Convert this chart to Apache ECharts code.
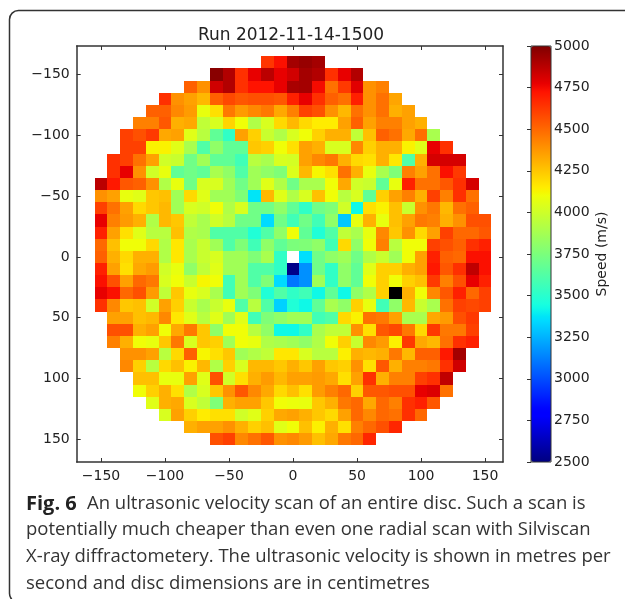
<!DOCTYPE html>
<html><head><meta charset="utf-8">
<style>html,body{margin:0;padding:0;background:#fff;overflow:hidden}#c{width:625px;height:599px}</style>
<script src="https://cdn.jsdelivr.net/npm/echarts@6/dist/echarts.min.js"></script>
</head><body><div id="c"></div>
<script>
const title = 'Run 2012-11-14-1500';
const axisTicks = [-150,-100,-50,0,50,100,150];
const colorbarLabel = 'Speed (m/s)';
const speedMin = 2500, speedMax = 5000;
// y position of each row of the scan; x position of the first cell in each row
const rowY = [-160,-150,-140,-130,-120,-110,-100,-90,-80,-70,-60,-50,-40,-30,-20,-10,0,10,20,30,40,50,60,70,80,90,100,110,120,130,140,150];
const rowStartX = [-20,-60,-80,-100,-110,-120,-130,-130,-140,-140,-150,-150,-150,-150,-150,-150,-150,-150,-150,-150,-150,-140,-140,-140,-130,-130,-120,-120,-110,-100,-80,-60];
const speeds = [
[4635,4733,4920,4950,4920],
[4980,4890,4647,4775,4870,4775,4825,4920,4890,4647,4775,4890],
[4520,4392,4830,4890,4647,4725,4725,4775,4910,4920,4745,4476,4625,4790,4392,4437],
[4647,4392,4350,4287,4520,4585,4545,4565,4565,4545,4690,4775,4647,4520,4476,4690,4392,4476,4340],
[4520,4520,4415,4365,4080,4182,4457,4365,4415,4457,4330,4437,4605,4565,4392,4287,4476,4392,4476,4307,4350],
[4437,4437,4545,4307,4330,3958,4032,4215,4103,3910,4032,4200,4287,4200,4150,4150,4350,4520,4350,4437,4437,4350,4307],
[4605,4565,4625,4330,4350,4055,3933,3668,3522,4350,4225,3983,3910,4032,4103,4225,4307,4307,3958,4268,4520,4476,4330,4480,3888],
[4605,4605,4135,4135,4055,3888,3618,3812,3668,3668,4247,4225,4103,4182,4350,4307,4032,4032,4415,4225,4307,4307,4135,4055,4775,4647],
[4647,4605,4476,4350,4007,3983,3715,3862,3668,3668,3570,3933,3888,4032,4020,4350,4415,4457,4307,4200,4182,4307,4165,3618,4307,4815,4815,4815],
[4647,4775,4392,4007,4080,3668,3715,3668,3888,3812,3618,3862,3812,3762,4045,4287,4125,4182,4476,4307,4080,3888,3762,4437,4350,4476,4733,4625],
[4870,4710,4545,4520,4392,3910,4080,3715,4032,4032,3862,3715,3862,4055,3910,3715,3888,3888,4103,4330,4007,3983,3668,4080,4690,4476,4476,4545,4647,4815],
[4392,4350,4080,4055,4247,4268,3862,4200,4055,3862,3862,3762,3375,4287,4055,3910,4032,4268,4103,3933,4032,3668,4225,4350,4437,4307,4605,4437,4647,4476],
[4605,4476,4350,4200,4247,4287,3862,4032,4007,4103,3910,4032,3715,3715,3812,3668,3522,3715,3762,4007,3423,4182,4135,4268,3983,4392,4457,4287,4476,4520],
[4775,4437,4365,4307,3910,4287,4247,3958,3888,4007,3933,3715,3715,3350,3715,3570,3715,3570,3812,3300,4080,4307,4080,4268,4350,4457,4437,4307,4392,4565,4565],
[4690,4350,4182,4055,3933,3933,4268,3910,3888,3618,3618,3618,3472,3618,3812,4103,3668,3472,3618,3958,3888,4080,4415,4247,4392,4200,4350,4605,4500,4500,4545],
[4500,4268,4103,4103,4200,3910,4165,3888,3983,3862,3618,3762,3570,3812,3668,3750,3762,3812,3570,4200,3812,4103,4437,3933,4103,4103,4605,4565,4520,4647,4690],
[4520,4307,4200,4307,4307,3910,4165,3888,3983,4032,3862,3862,3762,3888,3522,null,3360,3715,3812,3862,3715,3910,3983,3862,4103,4350,4690,4520,4500,4733,4733],
[4690,4350,4182,4330,4365,4007,4080,3812,3958,4055,3862,3862,3618,3618,3522,2520,3165,3715,3522,3812,3668,4055,4225,4225,4307,4350,4710,4545,4647,4860,4733],
[4733,4565,4350,4500,4457,4032,4103,3983,4125,4103,3570,3862,3618,3762,3350,3100,3165,3862,3522,3812,3668,4103,4225,4103,4225,4268,4625,4437,4565,4775,4690],
[4775,4733,4500,4565,4365,3958,4247,4080,4032,3888,3570,3862,3762,3472,3618,3522,3570,3423,3668,3423,3812,3910,4225,2400,4307,4103,4415,4545,4690,4500,4605],
[4647,4415,4247,4268,4007,4350,4225,3983,3888,3983,4080,3618,3933,3618,3325,3472,3423,3668,3888,3812,4225,4080,3570,3812,4287,3983,3888,4476,4605,4585,4605],
[4350,4350,4268,4287,4415,4165,4055,3933,4055,3862,4055,3570,3762,3812,3862,3862,3570,3618,4200,4135,4476,4457,4350,3888,3888,4330,4365,4565,4625],
[4565,4565,4307,4350,4103,4330,4457,4247,3812,4103,4103,3933,3812,3423,3423,3522,3888,3958,3958,4392,4182,4545,4585,4457,4200,4625,4457,4457,4605],
[4437,4307,4103,4080,4247,4457,4032,4247,4225,3862,4103,4080,3910,3888,3862,3812,3910,4103,4225,3983,4415,4365,4140,4625,4330,4287,4476,4647,4690],
[4392,4392,4350,3933,4200,4520,4125,4182,4247,3862,3910,3958,4165,4165,4032,3933,3933,4140,4307,4287,4307,4457,4287,4520,4520,4710,4920],
[4415,4225,3933,4200,4268,4135,4287,3910,4225,4032,4287,4287,4247,4307,4247,4350,4247,4225,4392,4182,4545,4307,4437,4437,4457,4647,4830],
[4268,4268,4080,4080,4350,4055,4565,4007,4182,4307,4365,4287,4350,4350,4365,4330,4182,4350,4647,4307,4437,4437,4605,4647,4860],
[4103,4225,4307,4182,3910,4032,4247,4392,4545,4415,4330,4200,4268,4182,4365,4437,4500,4225,4545,4545,4565,4565,4775,4800,4476],
[4055,4307,4330,4032,3958,3762,4307,4350,4350,4247,4103,4090,4080,4247,4307,4457,4500,4330,4500,4437,4647,4690,4545],
[4032,4350,4225,4150,4182,4182,4007,4055,4225,4330,4350,4307,4247,4200,4350,4500,4415,4500,4476,4647,4500],
[4307,4350,4350,4392,4307,4225,4268,4055,4103,4268,4140,4307,4182,4437,4500,4565,4675],
[4565,4605,4415,4476,4545,4392,4415,4365,4268,4330,4457,4500,4675]
];
const captionHead = 'Fig. 6';
const captionLines = [
 'An ultrasonic velocity scan of an entire disc. Such a scan is',
 'potentially much cheaper than even one radial scan with Silviscan',
 'X-ray diffractometery. The ultrasonic velocity is shown in metres per',
 'second and disc dimensions are in centimetres'];

// matplotlib "jet" colour scale, sampled evenly
const clamp=v=>Math.max(0,Math.min(1,v));
const jetColors=[];
for(let i=0;i<=100;i++){
  const t=i/100;
  const r=t<0.89?clamp((t-0.35)/0.31):1-(t-0.89)/0.11*0.5;
  const g=t<0.64?clamp((t-0.125)/0.25):clamp((0.91-t)/0.27);
  const b=t<0.34?Math.min(1,0.5+t/0.11*0.5):clamp((0.65-t)/0.31);
  jetColors.push('rgb('+[r,g,b].map(c=>Math.round(c*255)).join(',')+')');
}

const cellData = [];
speeds.forEach((row,i)=>row.forEach((v,j)=>{ if(v!==null) cellData.push([rowStartX[i]+j*10,rowY[i],v]); }));

const F='"DejaVu Sans"', INK='#222', AX='#333';
const G={left:76.7,top:46,width:426.3,height:416};
const CB={left:531,top:46,width:20,height:416};
const XR=[-169,164], YR=[-173.5,168.7];
const fmt=v=>String(v).replace('-','\u2212');
const mainX=(pos,labels)=>({type:'value',gridIndex:0,position:pos,min:XR[0],max:XR[1],
  axisLine:{show:true,onZero:false,lineStyle:{color:AX,width:1.5}},splitLine:{show:false},
  axisTick:{show:true,inside:true,length:4,customValues:axisTicks,lineStyle:{color:AX}},
  axisLabel:{show:labels,customValues:axisTicks,formatter:fmt,color:INK,fontFamily:F,fontSize:14,margin:7}});
const mainY=(pos,labels)=>({type:'value',gridIndex:0,position:pos,inverse:true,min:YR[0],max:YR[1],
  axisLine:{show:true,onZero:false,lineStyle:{color:AX,width:1.5}},splitLine:{show:false},
  axisTick:{show:true,inside:true,length:4,customValues:axisTicks,lineStyle:{color:AX}},
  axisLabel:{show:labels,customValues:axisTicks,formatter:fmt,color:INK,fontFamily:F,fontSize:14,margin:7}});

const chart=echarts.init(document.getElementById('c'),null,{renderer:'canvas'});
chart.setOption({
  animation:false,backgroundColor:'#fff',
  title:{text:title,left:286,top:22,textAlign:'center',textStyle:{fontFamily:F,fontSize:17,fontWeight:'normal',color:INK}},
  grid:[{...G,containLabel:false},{...CB,show:true,backgroundColor:'transparent',borderColor:AX,borderWidth:1,z:10}],
  xAxis:[mainX('bottom',true),mainX('top',false),
    {type:'value',gridIndex:1,min:0,max:1,show:false}],
  yAxis:[mainY('left',true),mainY('right',false),
    {type:'value',gridIndex:1,position:'right',min:speedMin,max:speedMax,interval:250,z:10,
     name:colorbarLabel,nameLocation:'middle',nameGap:44,nameRotate:90,
     nameTextStyle:{fontFamily:F,fontSize:14,color:INK},
     axisLine:{show:false},splitLine:{show:false},
     axisTick:{show:true,inside:true,length:4,lineStyle:{color:AX}},
     axisLabel:{color:INK,fontFamily:F,fontSize:14,margin:3,formatter:v=>String(v)}}],
  visualMap:[{type:'continuous',seriesIndex:0,dimension:2,min:speedMin,max:speedMax,
     left:CB.left,top:CB.top,itemWidth:CB.width,itemHeight:CB.height,padding:0,
     calculable:false,realtime:false,showLabel:false,text:['',''],hoverLink:false,
     inRange:{color:jetColors}}],
  series:[{type:'custom',xAxisIndex:0,yAxisIndex:0,data:cellData,encode:{x:0,y:1},
    clip:true,silent:true,
    renderItem:(params,api)=>{
      const x=api.value(0),y=api.value(1);
      const a=api.coord([x-5,y-5]),b=api.coord([x+5,y+5]);
      const x0=Math.round(a[0]),y0=Math.round(a[1]),x1=Math.round(b[0]),y1=Math.round(b[1]);
      const fill=api.value(2)<speedMin?'#000':api.visual('color');
      return {type:'rect',shape:{x:x0,y:y0,width:x1-x0,height:y1-y0},style:{fill:fill}};
    }}],
  graphic:[
    {type:'rect',shape:{x:9.5,y:10.5,width:700,height:592,r:9},style:{fill:'none',stroke:'#333',lineWidth:1.5},silent:true,z:-1},
    {type:'text',left:26,top:494,style:{text:captionHead,fontFamily:'"Open Sans"',fontWeight:'bold',fontSize:20,fill:'#222'}},
    {type:'text',left:87,top:494,style:{text:captionLines[0],fontFamily:'"Open Sans"',fontSize:18.5,fill:'#333'}},
    {type:'text',left:26,top:520.7,style:{text:captionLines[1],fontFamily:'"Open Sans"',fontSize:18.5,fill:'#333'}},
    {type:'text',left:26,top:547.4,style:{text:captionLines[2],fontFamily:'"Open Sans"',fontSize:18.5,fill:'#333'}},
    {type:'text',left:26,top:574,style:{text:captionLines[3],fontFamily:'"Open Sans"',fontSize:18.5,fill:'#333'}}
  ]
});
</script></body></html>
